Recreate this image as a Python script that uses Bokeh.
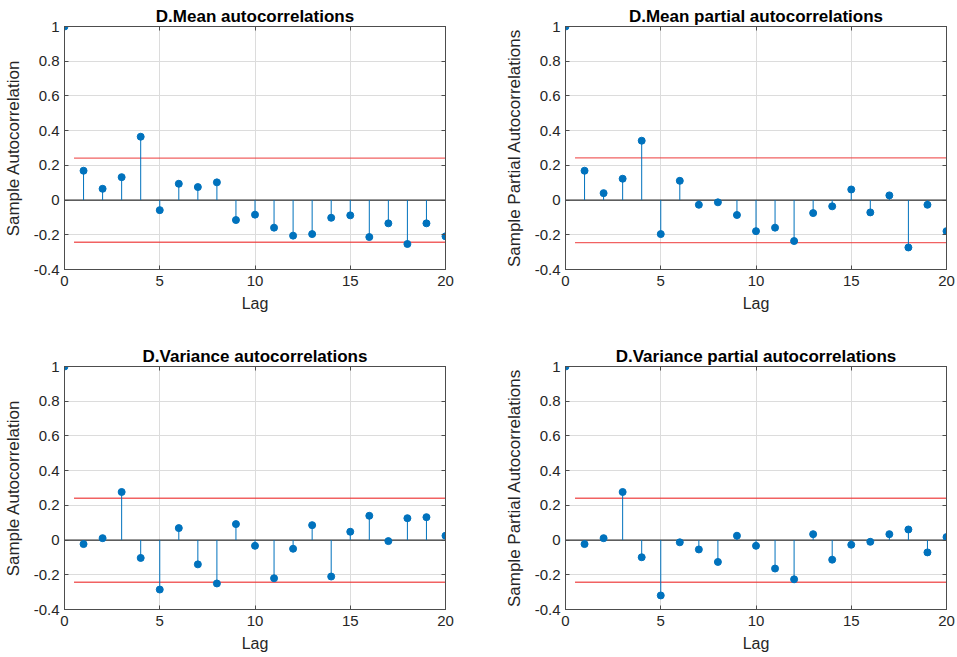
from bokeh.plotting import figure
from bokeh.layouts import column, row
from bokeh.models import FixedTicker, CustomJSTickFormatter, LinearAxis, Range1d
from bokeh.embed import file_html
from bokeh.resources import INLINE

lags = list(range(0, 21))

mean_acf = [1.0, 0.169, 0.065, 0.132, 0.365, -0.058, 0.094, 0.075, 0.102, -0.115, -0.084,
            -0.159, -0.205, -0.196, -0.102, -0.088, -0.213, -0.134, -0.253, -0.134, -0.209]
mean_pacf = [1.0, 0.169, 0.040, 0.123, 0.342, -0.196, 0.111, -0.027, -0.013, -0.086, -0.179,
             -0.159, -0.236, -0.075, -0.036, 0.061, -0.071, 0.027, -0.273, -0.027, -0.179]
var_acf = [1.0, -0.023, 0.011, 0.277, -0.103, -0.285, 0.069, -0.140, -0.250, 0.092, -0.033,
           -0.220, -0.050, 0.086, -0.210, 0.048, 0.140, -0.006, 0.126, 0.132, 0.025]
var_pacf = [1.0, -0.023, 0.011, 0.277, -0.099, -0.319, -0.013, -0.054, -0.126, 0.025, -0.033,
            -0.164, -0.226, 0.034, -0.113, -0.027, -0.010, 0.034, 0.061, -0.071, 0.017]

bound_upper = [0.242, 0.243, 0.241, 0.241]
bound_lower = [-0.243, -0.245, -0.243, -0.243]
bound_x = [0.5, 20]

titles = ["D.Mean autocorrelations", "D.Mean partial autocorrelations",
          "D.Variance autocorrelations", "D.Variance partial autocorrelations"]
ylabels = ["Sample Autocorrelation", "Sample Partial Autocorrelations",
           "Sample Autocorrelation", "Sample Partial Autocorrelations"]
xlabel = "Lag"
x_ticks = [0, 5, 10, 15, 20]
y_ticks = [-0.4, -0.2, 0, 0.2, 0.4, 0.6, 0.8, 1]

FONT = "Liberation Sans"
BLUE = "#0072BD"
AXC = "#4d4d4d"
TXT = "#262626"

fmt_js = "var s = tick.toFixed(1); if (s.endsWith('.0')) s = s.slice(0, -2); if (s == '-0') s = '0'; return s;"


def make(i, vals, left, right, top, bottom):
    p = figure(frame_width=381, frame_height=243, output_backend="svg", toolbar_location=None,
               x_range=Range1d(0, 20), y_range=Range1d(-0.4, 1),
               min_border_left=left, min_border_right=right,
               min_border_top=top, min_border_bottom=bottom,
               background_fill_color="white", border_fill_color="white")
    p.title.text = titles[i]
    p.title.text_font = FONT
    p.title.text_font_size = "17px"
    p.title.text_font_style = "bold"
    p.title.text_color = "black"
    p.title.align = "center"
    p.title.standoff = 2
    p.title.offset = 0

    p.outline_line_color = AXC
    p.outline_line_width = 1

    for ax in p.xaxis:
        ax.ticker = FixedTicker(ticks=x_ticks)
        ax.axis_label = xlabel
        ax.formatter = CustomJSTickFormatter(code=fmt_js)
        ax.axis_label_text_font_size = "16px"
    for ax in p.yaxis:
        ax.ticker = FixedTicker(ticks=y_ticks)
        ax.axis_label = ylabels[i]
        ax.formatter = CustomJSTickFormatter(code=fmt_js)
        ax.axis_label_text_font_size = "17px"
    for ax in list(p.xaxis) + list(p.yaxis):
        ax.axis_line_color = AXC
        ax.major_tick_line_color = AXC
        ax.major_tick_in = 4
        ax.major_tick_out = 0
        ax.minor_tick_line_color = None
        ax.major_label_text_font = FONT
        ax.major_label_text_font_size = "15px"
        ax.major_label_text_color = TXT
        ax.axis_label_text_font = FONT
        ax.axis_label_text_font_style = "normal"
        ax.axis_label_text_color = TXT
    p.xaxis.major_label_standoff = 6
    p.xaxis.axis_label_standoff = 6
    p.yaxis.major_label_standoff = 5
    p.yaxis.axis_label_standoff = 8

    # mirrored ticks on top and right (no labels)
    for loc, tk in (("above", x_ticks), ("right", y_ticks)):
        a = LinearAxis(ticker=FixedTicker(ticks=tk), formatter=CustomJSTickFormatter(code="return '';"),
                       axis_line_color=AXC, major_tick_line_color=AXC, major_tick_in=4,
                       major_tick_out=0, minor_tick_line_color=None, major_label_standoff=0)
        p.add_layout(a, loc)

    p.xgrid.ticker = FixedTicker(ticks=x_ticks)
    p.ygrid.ticker = FixedTicker(ticks=y_ticks)
    p.grid.grid_line_color = "#dcdcdc"
    p.grid.grid_line_width = 1

    # bounds
    p.line(bound_x, [bound_upper[i]] * 2, line_color="#ee3b3b", line_width=1.3, line_alpha=0.8)
    p.line(bound_x, [bound_lower[i]] * 2, line_color="#ee3b3b", line_width=1.3, line_alpha=0.8)
    # baseline
    p.line([0, 20], [0, 0], line_color="#333333", line_width=1.2)
    # stems
    p.segment(x0=lags, y0=[0] * len(lags), x1=lags, y1=vals, line_color=BLUE, line_width=1)
    p.scatter(lags, vals, size=7, fill_color=BLUE, line_color=BLUE)
    return p


p1 = make(0, mean_acf, 56, 56, 26, 74)
p2 = make(1, mean_pacf, 56, 10, 26, 74)
p3 = make(2, var_acf, 56, 56, 19, 40)
p4 = make(3, var_pacf, 56, 10, 19, 40)

layout = column(row(p1, p2), row(p3, p4))
open("out.html", "w").write(file_html(layout, INLINE))
